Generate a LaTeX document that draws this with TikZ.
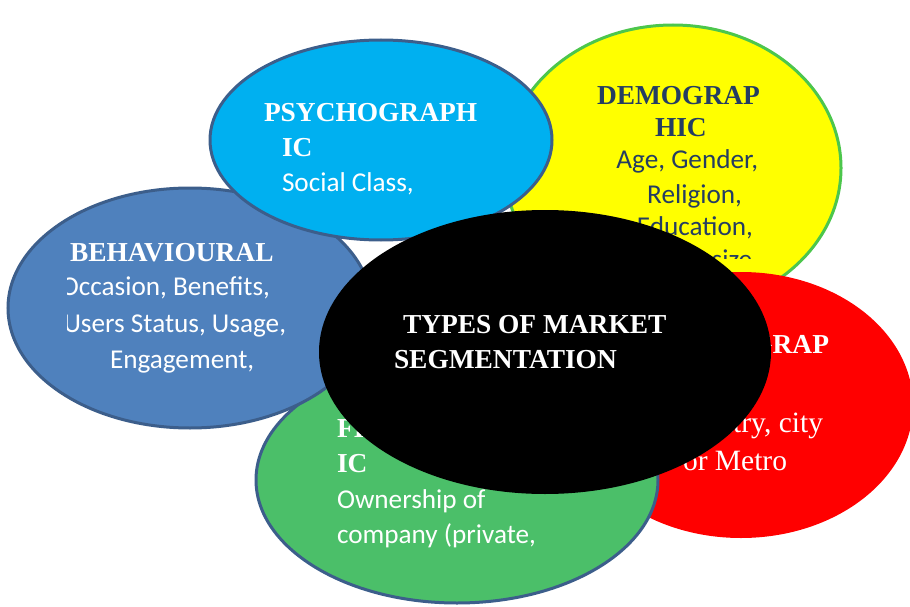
\documentclass[tikz,border=0pt]{standalone}
\usepackage{fontspec}
\setmainfont{Liberation Serif}
\newfontfamily\calibri{Carlito}
\definecolor{cyanfill}{HTML}{00B0F0}
\definecolor{blueedge}{HTML}{3C5E8B}
\definecolor{behfill}{HTML}{4F81BD}
\definecolor{yelfill}{HTML}{FFFF00}
\definecolor{yeledge}{HTML}{4CC64C}
\definecolor{navytext}{HTML}{243D62}
\definecolor{grnfill}{HTML}{4BBF69}
\definecolor{redfill}{HTML}{FF0000}
\tikzset{
  head/.style={font=\bfseries\fontsize{27.4}{30}\selectfont, inner sep=0pt, outer sep=0pt},
  body/.style={font=\calibri\fontsize{27.2}{30}\selectfont, inner sep=0pt, outer sep=0pt},
  serifbody/.style={font=\fontsize{29.5}{32}\selectfont, inner sep=0pt, outer sep=0pt},
  edge/.style={line width=3pt}
}
\begin{document}
\begin{tikzpicture}[x=1pt,y=-1pt]
\useasboundingbox (0,0) rectangle (910,607);
% Demographic (yellow)
\filldraw[fill=yelfill, draw=yeledge, edge] (673,168) ellipse [x radius=168, y radius=143];
\begin{scope}[text=navytext]
\node[head, anchor=base west] (dem1) at (597,105) {DEMOGRAP};
\node[head, anchor=base west] (dem2) at (655,137) {HIC};
\node[body, anchor=base east] (dem3) at (758,168) {Age, Gender,};
\node[body, anchor=base east] (dem4) at (742,203) {Religion,};
\node[body, anchor=base east] (dem5) at (753,235) {Education,};
\begin{scope}
\clip (0,0) rectangle (910,258);
\node[body, anchor=base east] (dem6) at (759,268) {Family size,};
\end{scope}
\end{scope}
% Geographic (red)
\fill[redfill] (741,405) ellipse [x radius=172, y radius=133];
\begin{scope}[text=white]
\node[head, anchor=base east] (geo1) at (829,353) {GEOGRAP};
\node[head, anchor=base west] (geo2) at (690,388) {HIC};
\node[serifbody, anchor=base east] (geo3) at (823,432) {Country, city};
\node[serifbody, anchor=base west] (geo4) at (683,470) {or Metro};
\end{scope}
% Firmographic (green)
\filldraw[fill=grnfill, draw=blueedge, edge] (457,480) ellipse [x radius=201, y radius=123];
\begin{scope}[text=white]
\node[head, anchor=base west] (frm1) at (337,437) {FIRMOGRAPH};
\node[head, anchor=base west] (frm2) at (337,472) {IC};
\node[body, anchor=base west] (frm3) at (337,508) {Ownership of};
\node[body, anchor=base west] (frm4) at (337,543) {company (private,};
\end{scope}
% Behavioural
\filldraw[fill=behfill, draw=blueedge, edge] (190,308) ellipse [x radius=182, y radius=120];
\begin{scope}[text=white]
\node[head, anchor=base west] (beh1) at (70,261) {BEHAVIOURAL};
\begin{scope}
\clip (67,0) rectangle (910,607);
\node[body, anchor=base east] (beh2) at (270,295) {Occasion, Benefits,};
\node[body, anchor=base east] (beh3) at (286,332) {Users Status, Usage,};
\end{scope}
\node[body, anchor=base west] (beh4) at (110,368) {Engagement,};
\end{scope}
% Psychographic (cyan)
\filldraw[fill=cyanfill, draw=blueedge, edge] (381,140) ellipse [x radius=171, y radius=100];
\begin{scope}[text=white]
\node[head, anchor=base west] (psy1) at (264,122) {PSYCHOGRAPH};
\node[head, anchor=base west] (psy2) at (282,157) {IC};
\node[body, anchor=base west] (psy3) at (282,191) {Social Class,};
\end{scope}
% Centre (black)
\fill[black] (545,352) ellipse [x radius=226, y radius=142];
\begin{scope}[text=white]
\node[head, anchor=base west] (ctr1) at (403,333) {TYPES OF MARKET};
\node[head, anchor=base west] (ctr2) at (394,368) {SEGMENTATION};
\end{scope}
\end{tikzpicture}
\end{document}
